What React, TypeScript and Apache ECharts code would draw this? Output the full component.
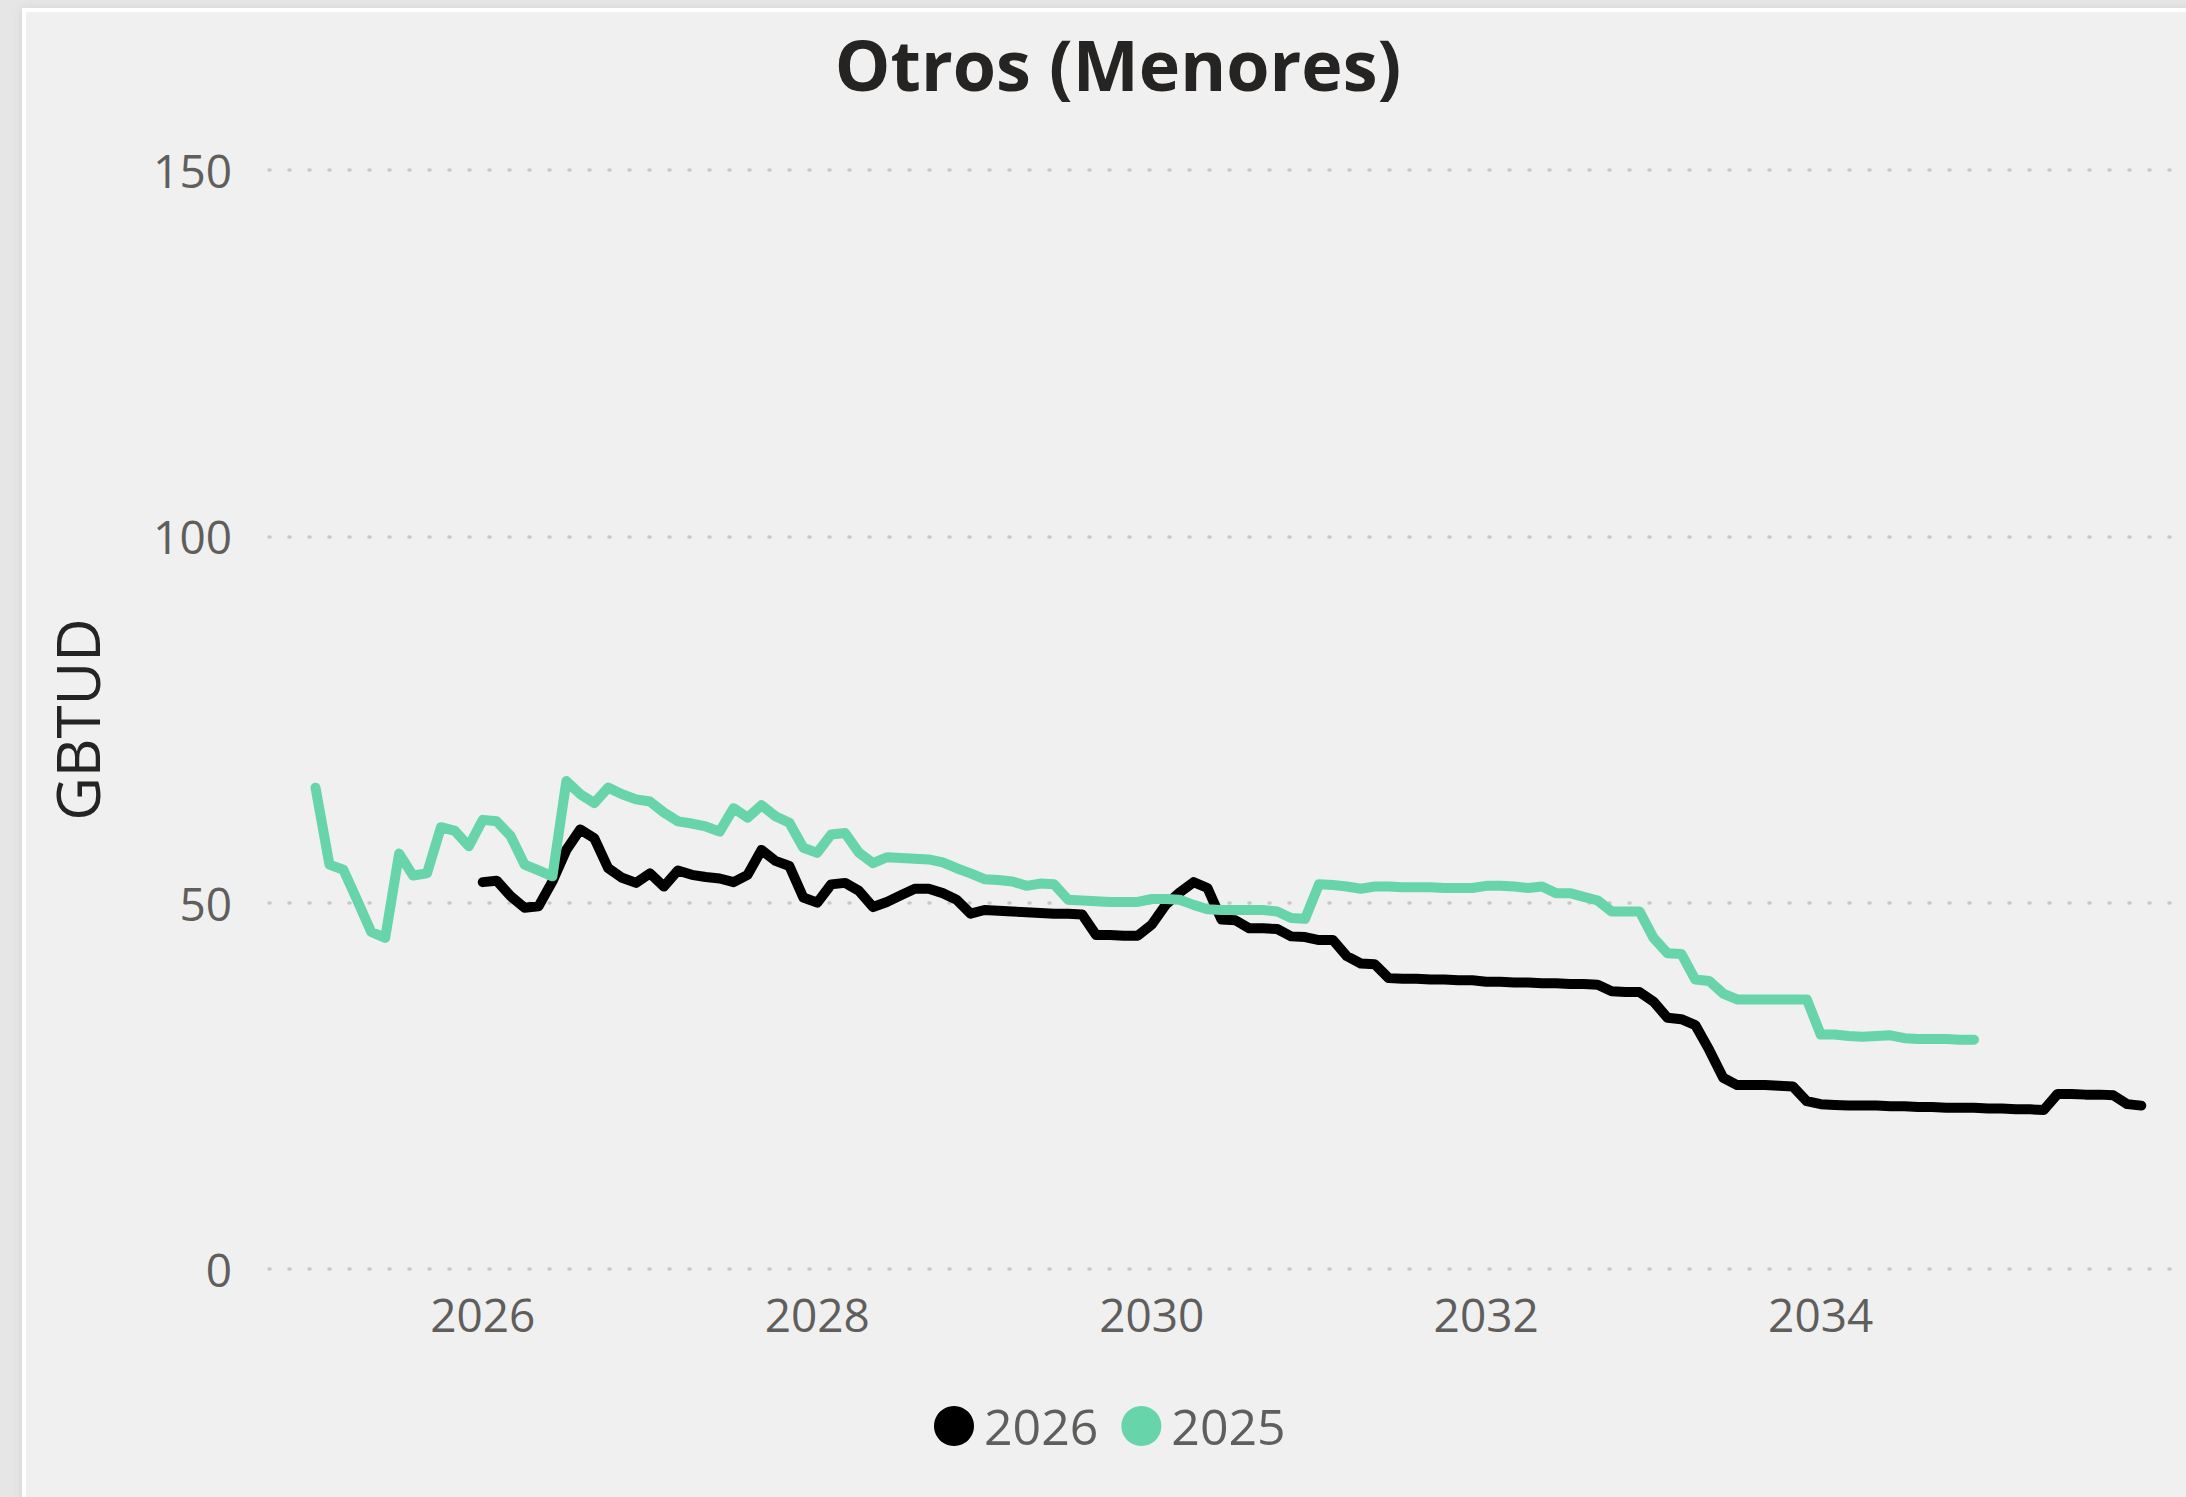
import React, { useEffect, useRef } from "react";
import * as echarts from "echarts";

// ---------- data (monthly values, GBTUD) ----------
const TITLE = "Otros (Menores)";
const Y_NAME = "GBTUD";
const SERIES_NAMES = ["2026", "2025"];
const X_TICKS = [2026, 2028, 2030, 2032, 2034];
const Y_TICKS_MAX = 150;

// series "2026": monthly from Jan 2026 to Dec 2035
const START_2026 = 2026;
const VALUES_2026 = [
  52.8, 53.0, 50.9, 49.3, 49.5, 52.9, 57.2, 60.0, 58.8, 54.7, 53.4, 52.7,
  54.0, 52.2, 54.4, 53.8, 53.5, 53.3, 52.8, 53.8, 57.2, 55.7, 55.0, 50.7,
  50.0, 52.5, 52.7, 51.6, 49.4, 50.1, 51.0, 51.9, 51.9, 51.3, 50.4, 48.5,
  49.0, 48.9, 48.8, 48.7, 48.6, 48.5, 48.5, 48.4, 45.6, 45.6, 45.5, 45.5,
  47.0, 49.7, 51.4, 52.8, 52.0, 47.7, 47.6, 46.5, 46.5, 46.4, 45.4, 45.3,
  44.9, 44.9, 42.7, 41.7, 41.6, 39.7, 39.6, 39.6, 39.5, 39.5, 39.4, 39.4,
  39.2, 39.2, 39.1, 39.1, 39.0, 39.0, 38.9, 38.9, 38.8, 37.9, 37.8, 37.8,
  36.5, 34.3, 34.1, 33.3, 29.9, 26.1, 25.1, 25.1, 25.1, 25.0, 24.9, 22.9,
  22.5, 22.4, 22.3, 22.3, 22.3, 22.2, 22.2, 22.1, 22.1, 22.0, 22.0, 22.0,
  21.9, 21.9, 21.8, 21.8, 21.7, 23.9, 23.9, 23.8, 23.8, 23.7, 22.5, 22.3,
];

// series "2025": monthly from Jan 2025 to Dec 2034
const START_2025 = 2025;
const VALUES_2025 = [
  65.7, 55.2, 54.5, 50.3, 46.0, 45.2, 56.7, 53.7, 54.0, 60.3, 59.8, 57.7,
  61.3, 61.1, 59.1, 55.2, 54.4, 53.6, 66.6, 64.8, 63.6, 65.7, 64.8, 64.1,
  63.8, 62.3, 61.1, 60.8, 60.4, 59.7, 62.9, 61.6, 63.3, 61.8, 60.9, 57.5,
  56.8, 59.3, 59.5, 56.8, 55.4, 56.2, 56.1, 56.0, 55.9, 55.5, 54.7, 54.0,
  53.2, 53.1, 52.9, 52.3, 52.6, 52.5, 50.4, 50.3, 50.2, 50.1, 50.1, 50.1,
  50.5, 50.5, 50.4, 49.7, 49.1, 49.0, 49.0, 49.0, 49.0, 48.8, 47.9, 47.8,
  52.5, 52.4, 52.2, 51.9, 52.2, 52.2, 52.1, 52.1, 52.1, 52.0, 52.0, 52.0,
  52.3, 52.3, 52.2, 52.0, 52.2, 51.3, 51.3, 50.8, 50.3, 48.8, 48.8, 48.8,
  45.2, 43.1, 43.0, 39.5, 39.3, 37.6, 36.8, 36.8, 36.8, 36.8, 36.8, 36.8,
  32.0, 32.0, 31.8, 31.7, 31.8, 31.9, 31.5, 31.4, 31.4, 31.4, 31.3, 31.3,
];

const X_MIN = 2024.722;
const X_MAX = 2036.184;

const COLORS = { s2026: "#000000", s2025: "#67D4AA" };
const FONT = "'Segoe UI', 'Open Sans', 'Noto Sans', sans-serif";

const monthly = (startYear: number, vals: number[]) =>
  vals.map((v, i) => [startYear + i / 12, v]);

export default function App() {
  const ref = useRef<HTMLDivElement>(null);

  useEffect(() => {
    if (!ref.current) return;
    const chart = echarts.init(ref.current, undefined, { renderer: "svg" });
    chart.setOption({
      animation: false,
      backgroundColor: "transparent",
      textStyle: { fontFamily: FONT },
      title: {
        text: TITLE,
        left: 1118,
        textAlign: "center",
        top: 29,
        padding: 0,
        textStyle: {
          fontSize: 70,
          fontWeight: "bold",
          color: "#252423",
          fontFamily: FONT,
        },
      },
      legend: {
        data: SERIES_NAMES,
        left: 934,
        top: 1401,
        padding: 0,
        icon: "circle",
        itemWidth: 40,
        itemHeight: 40,
        itemGap: 23,
        textStyle: {
          fontSize: 50,
          color: "#605e5c",
          fontFamily: FONT,
          padding: [0, 0, 0, 5],
        },
      },
      grid: { left: 269, right: 0, top: 170, bottom: 228 },
      xAxis: {
        type: "value",
        min: X_MIN,
        max: X_MAX,
        axisLine: { show: false },
        axisTick: { show: false },
        splitLine: { show: false },
        axisLabel: {
          customValues: X_TICKS,
          formatter: (v: number) => String(Math.round(v)),
          fontSize: 46,
          color: "#605e5c",
          margin: 22,
          fontFamily: FONT,
        },
      },
      yAxis: {
        type: "value",
        min: 0,
        max: Y_TICKS_MAX,
        interval: 50,
        name: Y_NAME,
        nameLocation: "middle",
        nameGap: 162,
        nameTextStyle: { fontSize: 60, color: "#252423", fontFamily: FONT },
        axisLine: { show: false },
        axisTick: { show: false },
        axisLabel: {
          fontSize: 46,
          color: "#605e5c",
          margin: 37,
          fontFamily: FONT,
        },
        splitLine: {
          show: true,
          lineStyle: { color: "#c8c8c8", width: 3.5, type: [1, 19], cap: "round" },
        },
      },
      series: [
        {
          name: SERIES_NAMES[0],
          type: "line",
          data: monthly(START_2026, VALUES_2026),
          showSymbol: false,
          symbol: "circle",
          color: COLORS.s2026,
          lineStyle: { width: 10, color: COLORS.s2026, cap: "round", join: "round" },
        },
        {
          name: SERIES_NAMES[1],
          type: "line",
          data: monthly(START_2025, VALUES_2025),
          showSymbol: false,
          symbol: "circle",
          color: COLORS.s2025,
          lineStyle: { width: 10, color: COLORS.s2025, cap: "round", join: "round" },
        },
      ],
    });
    return () => chart.dispose();
  }, []);

  return (
    <div
      style={{
        position: "fixed",
        left: 0,
        top: 0,
        width: 2186,
        height: 1497,
        background: "#e6e6e6",
        overflow: "hidden",
      }}
    >
      <div
        style={{
          position: "absolute",
          left: 22,
          top: 8,
          width: 2200,
          height: 1520,
          background: "#f0f0f0",
          borderTop: "4px solid #ffffff",
          borderLeft: "4px solid #ffffff",
          boxShadow: "0 0 10px rgba(0,0,0,0.08)",
        }}
      />
      <div
        ref={ref}
        style={{ position: "absolute", left: 0, top: 0, width: 2186, height: 1497 }}
      />
    </div>
  );
}
